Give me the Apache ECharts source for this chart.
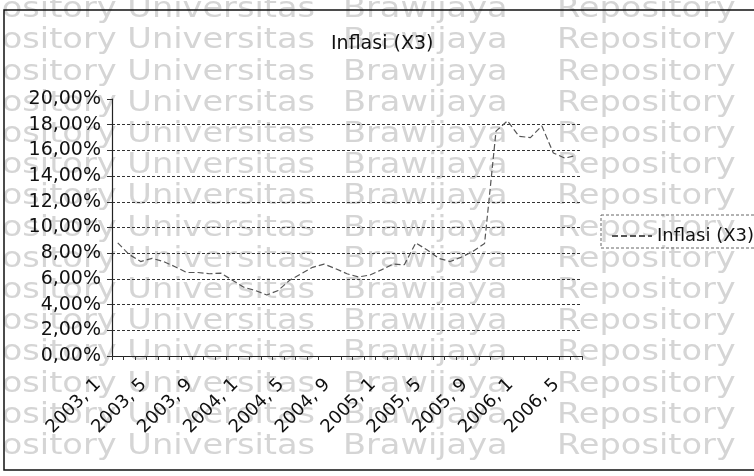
<!DOCTYPE html>
<html>
<head>
<meta charset="utf-8">
<title>Inflasi (X3)</title>
<script src="https://cdn.jsdelivr.net/npm/echarts@6/dist/echarts.min.js"></script>
<style>
  html, body { margin: 0; padding: 0; background: #fff; }
  #chart { width: 754px; height: 476px; }
</style>
</head>
<body>
<div id="chart"></div>
<script>
/* Inflasi (X3) — line chart, 2003,1 – 2006,5 */
var categories = [
  '2003, 1', '2003, 2', '2003, 3', '2003, 4', '2003, 5', '2003, 6', '2003, 7', '2003, 8', '2003, 9', '2003, 10', '2003, 11', '2003, 12',
  '2004, 1', '2004, 2', '2004, 3', '2004, 4', '2004, 5', '2004, 6', '2004, 7', '2004, 8', '2004, 9', '2004, 10', '2004, 11', '2004, 12',
  '2005, 1', '2005, 2', '2005, 3', '2005, 4', '2005, 5', '2005, 6', '2005, 7', '2005, 8', '2005, 9', '2005, 10', '2005, 11', '2005, 12',
  '2006, 1', '2006, 2', '2006, 3', '2006, 4', '2006, 5'
];

// inflasi in percent
var inflasi = [
  8.8, 7.9, 7.35, 7.6, 7.35, 6.95, 6.5, 6.5, 6.4, 6.45, 5.9, 5.35,
  5.1, 4.75, 5.1, 5.9, 6.4, 6.9, 7.15, 6.8, 6.4, 6.15, 6.3, 6.7,
  7.15, 7.1, 8.8, 8.25, 7.6, 7.35, 7.7, 8.15, 8.75, 17.5, 18.3, 17.1,
  17.0, 17.9, 15.8, 15.4, 15.6
];

var seriesName = 'Inflasi (X3)';
var yMin = 0, yMax = 20, yStep = 2;

var FONT = 'DejaVu Sans, sans-serif';
var WM_FONT = '28px ' + FONT;
var WM_COLOR = '#d5d5d5';

// scanned watermark rows behind the chart (the scan is stretched sideways)
function wmText(text, x, y, align) {
  return { type: 'text', x: x, y: y, scaleX: 1.2, z: -10, silent: true,
    style: { text: text, font: WM_FONT, fill: WM_COLOR, align: align || 'left', verticalAlign: 'middle' } };
}
var wmRows = [];
for (var r = 0; r < 15; r++) {
  var y = 10 + r * 31.2;
  wmRows.push(wmText('Repository Universitas', 315, y, 'right'));
  wmRows.push(wmText('Brawijaya', 343, y));
  wmRows.push(wmText('Repository', 557, y));
}

var chart = echarts.init(document.getElementById('chart'), null, { renderer: 'canvas' });

var option = {
  animation: false,
  backgroundColor: '#fff',
  title: {
    text: seriesName,
    left: 326,
    top: 30,
    textStyle: { fontFamily: FONT, fontSize: 19, fontWeight: 'normal', color: '#111' }
  },
  legend: {
    data: [seriesName],
    left: 606,
    top: 222,
    itemWidth: 40,
    itemHeight: 14,
    itemGap: 6,
    itemStyle: { opacity: 0 },
    textStyle: { fontFamily: FONT, fontSize: 18, color: '#111' }
  },
  grid: { left: 112, right: 172, top: 99, bottom: 120, containLabel: false },
  xAxis: {
    type: 'category',
    data: categories,
    boundaryGap: true,
    axisLine: { lineStyle: { color: '#222', width: 1.2 } },
    axisTick: { show: true, interval: 0, length: 4, lineStyle: { color: '#333' } },
    axisLabel: {
      interval: 3,
      rotate: 45,
      margin: 6,
      padding: [0, 28, 0, 0],
      fontFamily: FONT,
      fontSize: 18,
      color: '#111'
    },
    splitLine: { show: false }
  },
  yAxis: {
    type: 'value',
    min: yMin,
    max: yMax,
    interval: yStep,
    axisLine: { show: true, lineStyle: { color: '#222', width: 1.2 } },
    axisTick: { show: true, length: 5, lineStyle: { color: '#333' } },
    axisLabel: {
      margin: 11,
      fontFamily: FONT,
      fontSize: 19,
      color: '#111',
      formatter: function (v) { return v.toFixed(2).replace('.', ',') + '%'; }
    },
    splitLine: {
      show: true,
      showMaxLine: false,
      lineStyle: { color: '#333', type: [3, 2], width: 1 }
    }
  },
  series: [{
    name: seriesName,
    type: 'line',
    data: inflasi,
    symbol: 'none',
    lineStyle: { color: '#555', width: 1.2, type: [6, 3] },
    itemStyle: { color: '#555' }
  }],
  graphic: wmRows.concat([
    { type: 'rect', z: 100, silent: true,
      shape: { x: 4, y: 10, width: 770, height: 460 },
      style: { fill: 'none', stroke: '#111', lineWidth: 1.5 } },
    { type: 'rect', z: 100, silent: true,
      shape: { x: 601, y: 215, width: 170, height: 33 },
      style: { fill: 'none', stroke: '#666', lineWidth: 1, lineDash: [3, 2] } }
  ])
};

chart.setOption(option);
window.addEventListener('resize', function () { chart.resize(); });
</script>
</body>
</html>
